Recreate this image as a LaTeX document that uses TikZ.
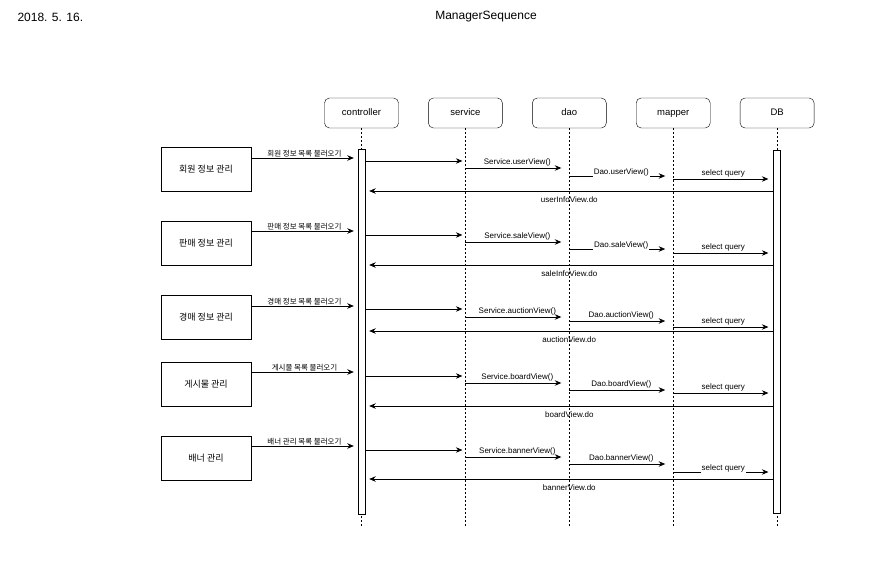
\documentclass[tikz,border=0pt]{standalone}
\usepackage{fontspec}
\setmainfont{Liberation Sans}
\newfontfamily\kr{Noto Sans CJK KR}
\usetikzlibrary{arrows.meta, positioning}
\tikzset{
  >={Stealth[length=6.5pt, width=5.5pt]},
  node distance=29.5pt,
  head/.style={draw, rounded corners=5pt, minimum width=74pt, minimum height=30pt, text height=7pt, text depth=2pt, font=\fontsize{9.5}{11}\selectfont},
  actbar/.style={draw, fill=white, minimum width=7pt, inner sep=0pt, anchor=north},
  usecase/.style={draw, minimum width=90pt, minimum height=44pt, font=\kr\fontsize{9}{10}\selectfont},
  life/.style={dash pattern=on 2pt off 2pt},
  msg/.style={->, line width=0.8pt},
  lbl/.style={font=\fontsize{8}{9}\selectfont, inner sep=1pt},
  inline/.style={fill=white, inner ysep=2.5pt, yshift=4pt},
  klbl/.style={font=\kr\fontsize{7.5}{9}\selectfont, inner sep=1pt},
}
\begin{document}
\begin{tikzpicture}[x=1pt, y=-1pt]
  \useasboundingbox (0,0) rectangle (877,560);

  % header
  \node[anchor=west, font=\fontsize{12}{14}\selectfont] (date) at (14,17) {2018. 5. 16.};
  \node[font=\fontsize{12}{14}\selectfont] (title) at (486,17) {ManagerSequence};

  % lifelines
  \node[head] (ctrl) at (361.5,113) {controller};
  \node[head, right=of ctrl] (svc) {service};
  \node[head, right=of svc] (dao) {dao};
  \node[head, right=of dao] (map) {mapper};
  \node[head, right=of map] (db) {DB};

  \coordinate (bottom) at (0,526);
  \draw[life] (ctrl.south) -- (ctrl |- bottom);
  \draw[life] (svc.south) -- (svc |- bottom);
  \draw[life] (dao.south) -- (dao |- bottom);
  \draw[life] (map.south) -- (map |- bottom);
  \draw[life] (db.south) -- (db |- bottom);

  \node[actbar, minimum height=365pt] (ctrlbar) at (ctrl |- 0,149) {};
  \node[actbar, minimum height=363pt] (dbbar) at (db |- 0,150) {};

  % use cases
  \node[usecase] (uc1) at (206,169) {회원 정보 관리};
  \node[usecase] (uc2) at (206,243.5) {판매 정보 관리};
  \node[usecase] (uc3) at (206,317) {경매 정보 관리};
  \node[usecase] (uc4) at (206,384) {게시물 관리};
  \node[usecase] (uc5) at (206,458) {배너 관리};

  % member info
  \draw[msg, shorten >=4pt] (uc1.east |- 0,158) -- node[klbl, above] {회원 정보 목록 불러오기} (ctrlbar.west |- 0,158);
  \draw[msg, shorten >=3pt] (ctrlbar.east |- 0,161) -- (svc |- 0,161);
  \draw[msg, shorten >=8pt] (svc |- 0,168) -- node[lbl, above] {Service.userView()} (dao |- 0,168);
  \draw[msg, shorten >=8pt] (dao |- 0,176) -- node[lbl, inline] {Dao.userView()} (map |- 0,176);
  \draw[msg, shorten >=5pt] (map |- 0,179) -- node[lbl, above] {select query} (dbbar.west |- 0,179);
  \draw[msg, shorten >=4pt] (dbbar.west |- 0,191) -- node[lbl, below=4.5pt] {userInfoView.do} (ctrlbar.east |- 0,191);

  % sale info
  \draw[msg, shorten >=4pt] (uc2.east |- 0,231) -- node[klbl, above] {판매 정보 목록 불러오기} (ctrlbar.west |- 0,231);
  \draw[msg, shorten >=3pt] (ctrlbar.east |- 0,235) -- (svc |- 0,235);
  \draw[msg, shorten >=8pt] (svc |- 0,242) -- node[lbl, above] {Service.saleView()} (dao |- 0,242);
  \draw[msg, shorten >=8pt] (dao |- 0,249) -- node[lbl, inline] {Dao.saleView()} (map |- 0,249);
  \draw[msg, shorten >=5pt] (map |- 0,253) -- node[lbl, above] {select query} (dbbar.west |- 0,253);
  \draw[msg, shorten >=4pt] (dbbar.west |- 0,265) -- node[lbl, below=4.5pt] {saleInfoView.do} (ctrlbar.east |- 0,265);

  % auction info
  \draw[msg, shorten >=4pt] (uc3.east |- 0,306) -- node[klbl, above] {경매 정보 목록 불러오기} (ctrlbar.west |- 0,306);
  \draw[msg, shorten >=3pt] (ctrlbar.east |- 0,309) -- (svc |- 0,309);
  \draw[msg, shorten >=8pt] (svc |- 0,317) -- node[lbl, above] {Service.auctionView()} (dao |- 0,317);
  \draw[msg, shorten >=8pt] (dao |- 0,321) -- node[lbl, above] {Dao.auctionView()} (map |- 0,321);
  \draw[msg, shorten >=5pt] (map |- 0,327) -- node[lbl, above] {select query} (dbbar.west |- 0,327);
  \draw[msg, shorten >=4pt] (dbbar.west |- 0,331) -- node[lbl, below=4.5pt] {auctionView.do} (ctrlbar.east |- 0,331);

  % board
  \draw[msg, shorten >=4pt] (uc4.east |- 0,372) -- node[klbl, above] {게시물 목록 불러오기} (ctrlbar.west |- 0,372);
  \draw[msg, shorten >=3pt] (ctrlbar.east |- 0,376) -- (svc |- 0,376);
  \draw[msg, shorten >=8pt] (svc |- 0,383) -- node[lbl, above] {Service.boardView()} (dao |- 0,383);
  \draw[msg, shorten >=8pt] (dao |- 0,390) -- node[lbl, above] {Dao.boardView()} (map |- 0,390);
  \draw[msg, shorten >=5pt] (map |- 0,393) -- node[lbl, above] {select query} (dbbar.west |- 0,393);
  \draw[msg, shorten >=4pt] (dbbar.west |- 0,406) -- node[lbl, below=4.5pt] {boardView.do} (ctrlbar.east |- 0,406);

  % banner
  \draw[msg, shorten >=4pt] (uc5.east |- 0,446) -- node[klbl, above] {배너 관리 목록 불러오기} (ctrlbar.west |- 0,446);
  \draw[msg, shorten >=3pt] (ctrlbar.east |- 0,450) -- (svc |- 0,450);
  \draw[msg, shorten >=8pt] (svc |- 0,457) -- node[lbl, above] {Service.bannerView()} (dao |- 0,457);
  \draw[msg, shorten >=8pt] (dao |- 0,464) -- node[lbl, above] {Dao.bannerView()} (map |- 0,464);
  \draw[msg, shorten >=5pt] (map |- 0,472) -- node[lbl, inline] {select query} (dbbar.west |- 0,472);
  \draw[msg, shorten >=4pt] (dbbar.west |- 0,479) -- node[lbl, below=4.5pt] {bannerView.do} (ctrlbar.east |- 0,479);

\end{tikzpicture}
\end{document}
